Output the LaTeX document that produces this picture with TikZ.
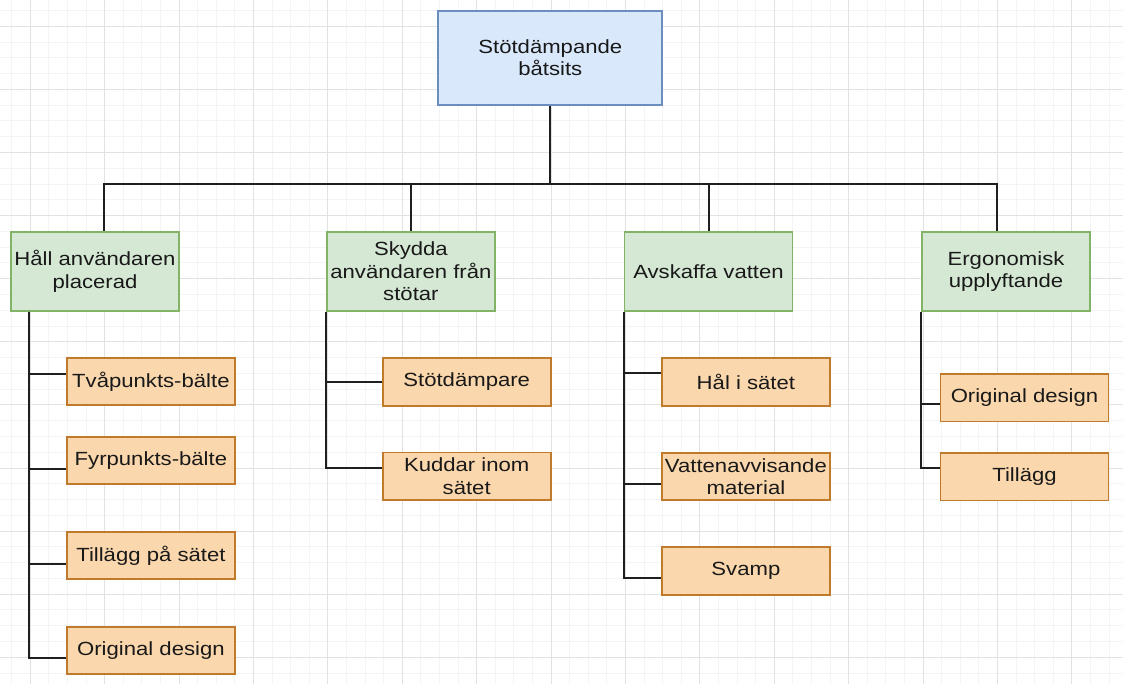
\documentclass[tikz,border=0pt]{standalone}
\usepackage{fontspec}
\setmainfont{Liberation Sans}[FakeStretch=1.16]
\usepackage{tikz}
\definecolor{bluefill}{HTML}{DAE8FC}
\definecolor{bluedraw}{HTML}{6C8EBF}
\definecolor{greenfill}{HTML}{D5E8D4}
\definecolor{greendraw}{HTML}{82B366}
\definecolor{orangefill}{HTML}{FAD7AC}
\definecolor{orangedraw}{HTML}{C07A2C}
\definecolor{minorgrid}{HTML}{F4F4F4}
\definecolor{majorgrid}{HTML}{E2E2E2}

\begin{document}
\begin{tikzpicture}[x=0.75pt,y=-0.75pt,
    every node/.style={font=\fontsize{14.3pt}{16.7pt}\selectfont,text=black!90,align=center,inner sep=0pt},
    box/.style={rectangle,draw,line width=1.4pt},
    rootbox/.style={box,fill=bluefill,draw=bluedraw,minimum width=168pt,minimum height=71pt},
    goal/.style={box,fill=greenfill,draw=greendraw,minimum width=126pt,minimum height=59pt},
    means/.style={box,fill=orangefill,draw=orangedraw,minimum width=126pt,minimum height=35.7pt},
    conn/.style={line width=1.5pt,draw=black!88},
    minorline/.style={line width=0.75pt,draw=minorgrid},
    majorline/.style={line width=0.75pt,draw=majorgrid}]
\useasboundingbox (0,0) rectangle (1123,684);
\clip (0,0) rectangle (1123,684);
\fill[white] (0,0) rectangle (1123,684);
\foreach \i in {-1,...,59}
  \draw[minorline] ({30.3+18.6*\i},0) -- ++(0,684);
\foreach \j in {-1,...,42}
  \draw[minorline] (0,{26.3+15.775*\j}) -- ++(1123,0);
\foreach \i in {0,...,14}
  \draw[majorline] ({30.3+74.4*\i},0) -- ++(0,684);
\foreach \j in {0,...,10}
  \draw[majorline] (0,{26.3+63.1*\j}) -- ++(1123,0);

\node[rootbox] (root) at (550.3,58) {Stötdämpande\\båtsits};

\node[goal] (hall) at (95,271.3) {Håll användaren\\placerad};
\node[goal] (skydda) at (410.9,271.3) {Skydda\\användaren från\\stötar};
\node[goal] (avskaffa) at (708.5,271.3) {Avskaffa vatten};
\node[goal] (ergo) at (1006,271.3) {Ergonomisk\\upplyftande};

\node[means] (tva) at (150.9,381.5) {Tvåpunkts-bälte};
\node[means] (fyr) at (150.9,460.5) {Fyrpunkts-bälte};
\node[means] (tillagg) at (150.9,555.5) {Tillägg på sätet};
\node[means] (orig) at (150.9,650.4) {Original design};

\node[means] (stot) at (466.7,382) {Stötdämpare};
\node[means] (kuddar) at (466.7,476.3) {Kuddar inom\\sätet};

\node[means] (hal) at (745.9,382) {Hål i sätet};
\node[means] (vatten) at (745.9,476.5) {Vattenavvisande\\material};
\node[means] (svamp) at (745.9,571.2) {Svamp};

\node[means] (ergoorig) at (1024.5,397.7) {Original design};
\node[means] (ergotill) at (1024.5,476.7) {Tillägg};

\coordinate (bar) at (550.3,184);
\draw[conn] (root.south) -- (bar);
\draw[conn] (bar) -| ([xshift=6.75pt]hall.north);
\draw[conn] (bar) -| (skydda.north);
\draw[conn] (bar) -| (avskaffa.north);
\draw[conn] (bar) -| ([xshift=-7pt]ergo.north);

\draw[conn] ([xshift=14.25pt]hall.south west) |- ([yshift=6pt]tva.west);
\draw[conn] ([xshift=14.25pt]hall.south west) |- ([yshift=-6pt]fyr.west);
\draw[conn] ([xshift=14.25pt]hall.south west) |- ([yshift=-6pt]tillagg.west);
\draw[conn] ([xshift=14.25pt]hall.south west) |- ([yshift=-6pt]orig.west);

\draw[conn] (skydda.south west) |- (stot.west);
\draw[conn] (skydda.south west) |- ([yshift=6pt]kuddar.west);

\draw[conn] (avskaffa.south west) |- ([yshift=6.5pt]hal.west);
\draw[conn] (avskaffa.south west) |- ([yshift=-5.25pt]vatten.west);
\draw[conn] (avskaffa.south west) |- ([yshift=-5.25pt]svamp.west);

\draw[conn] (ergo.south west) |- ([yshift=-5pt]ergoorig.west);
\draw[conn] (ergo.south west) |- ([yshift=6.5pt]ergotill.west);
\end{tikzpicture}
\end{document}
